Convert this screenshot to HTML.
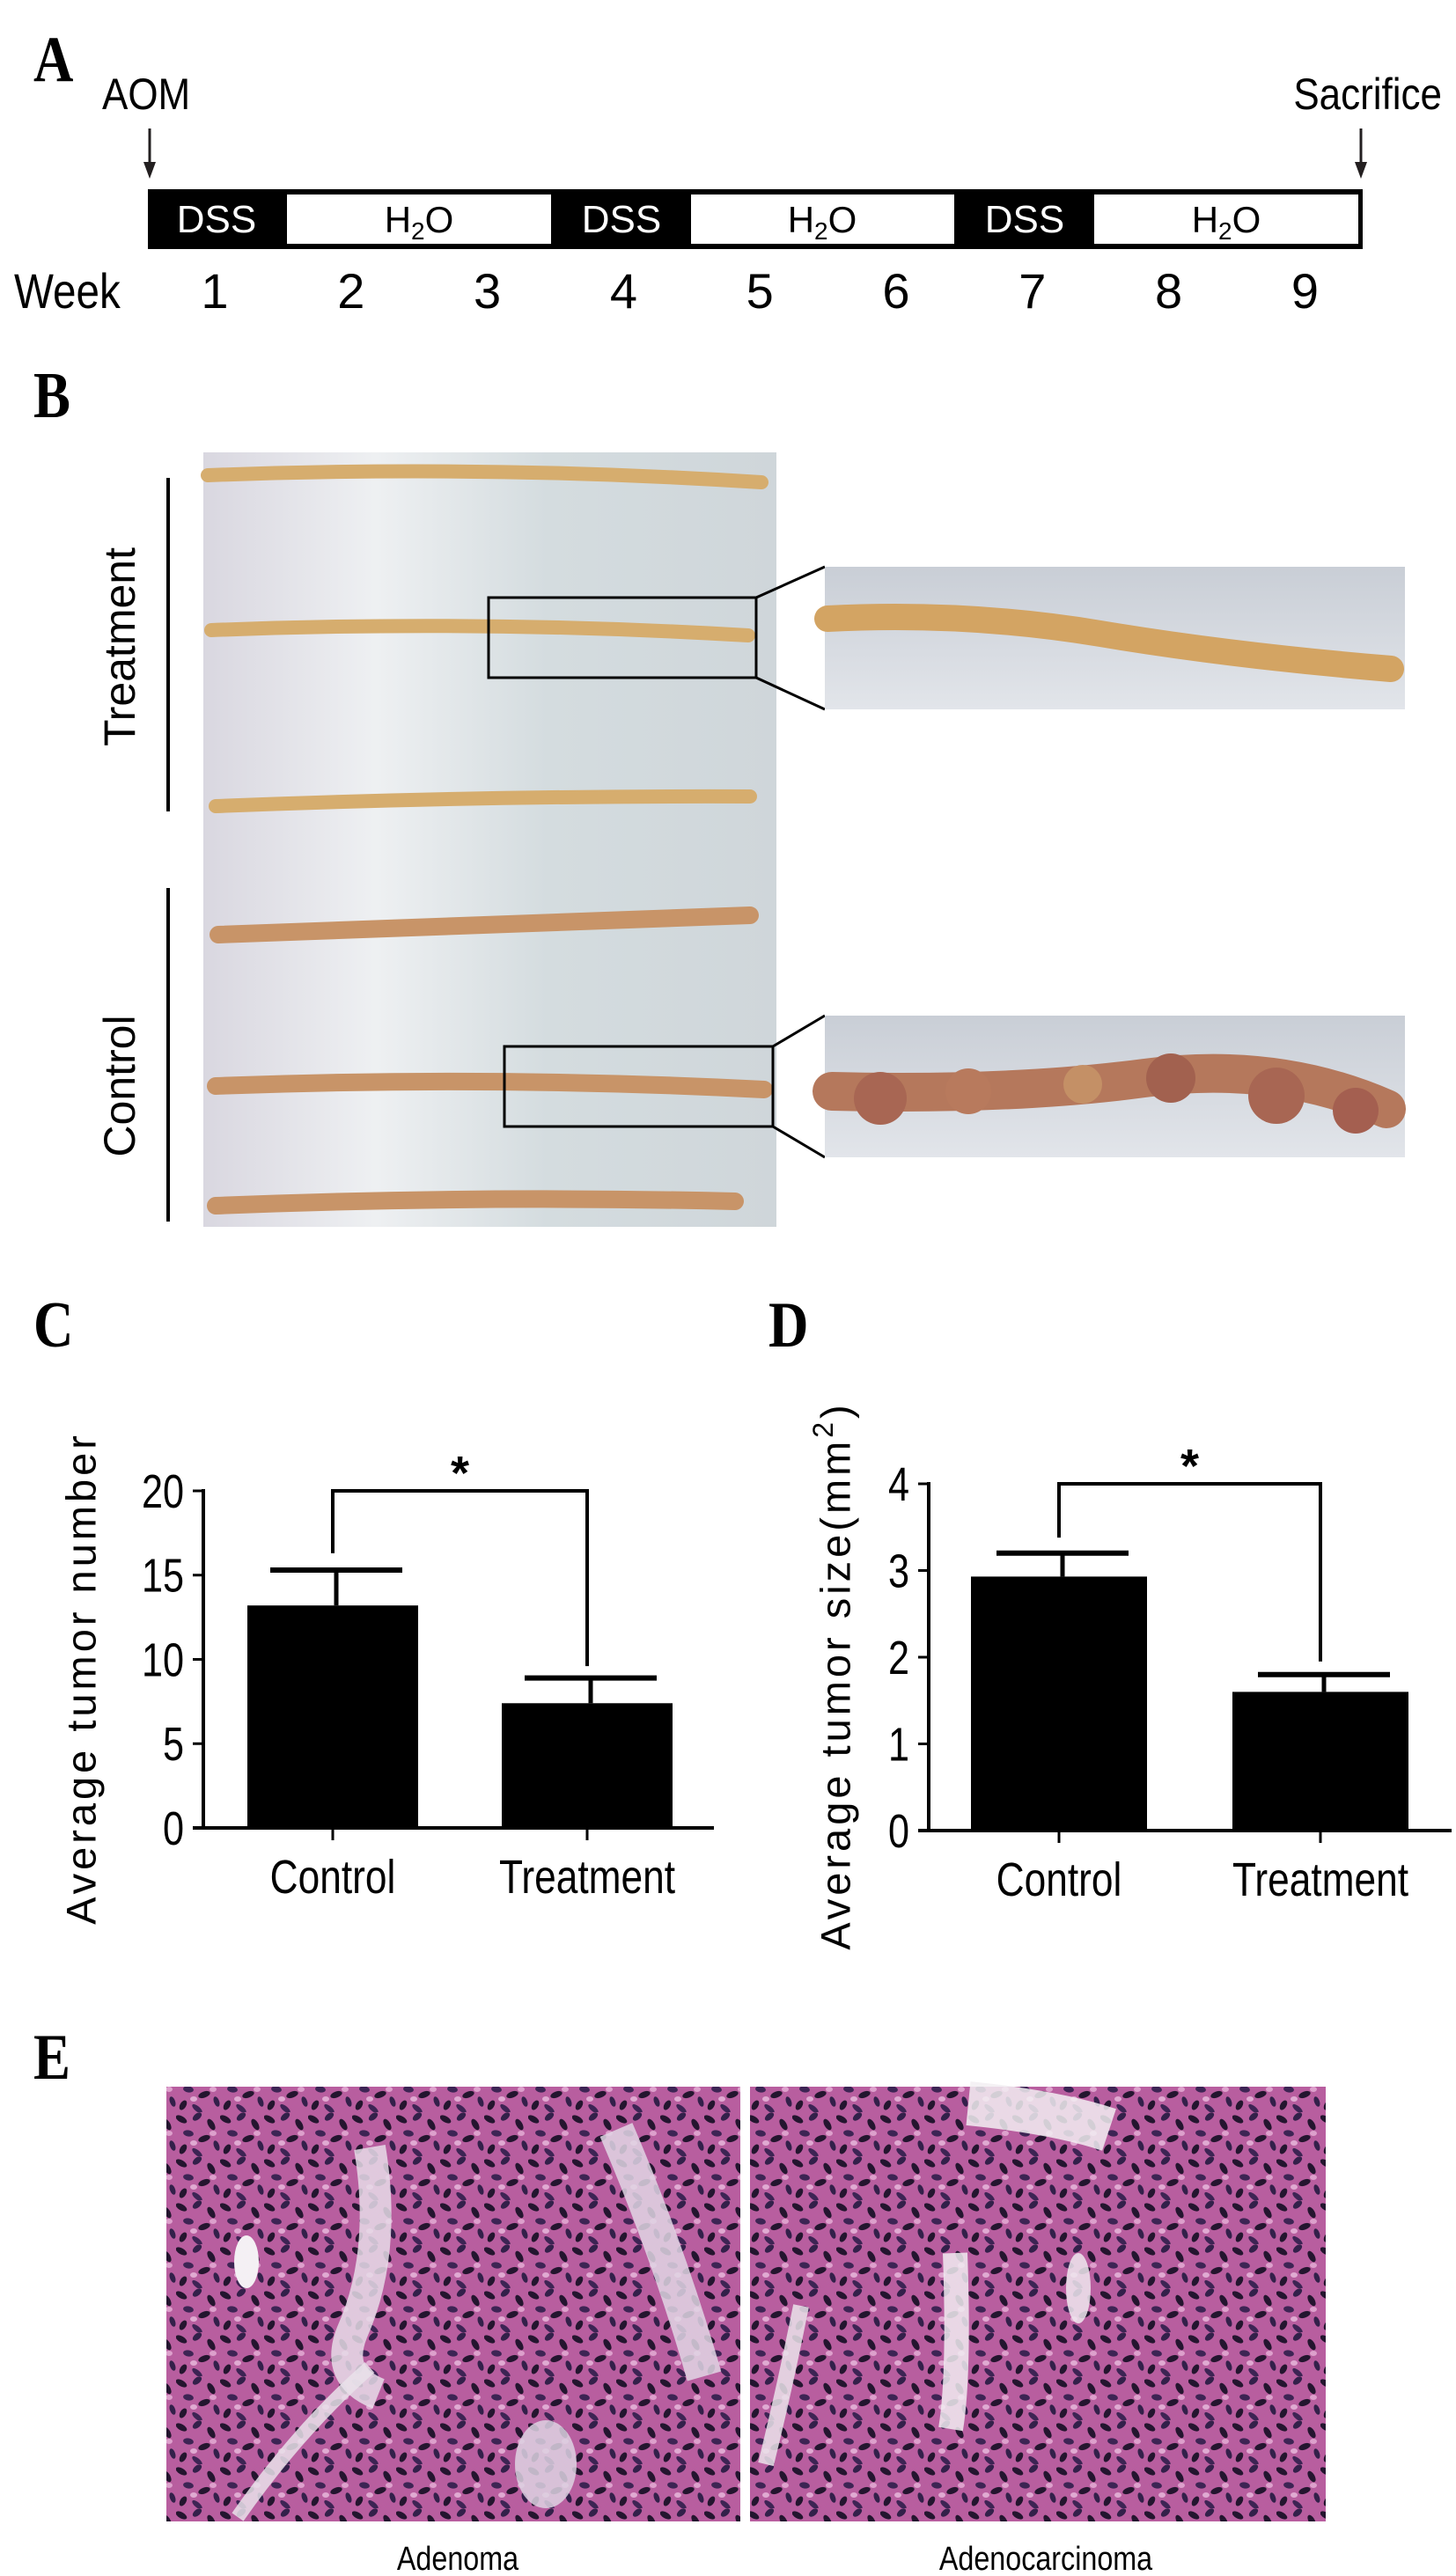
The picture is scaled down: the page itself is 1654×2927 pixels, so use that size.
<!DOCTYPE html>
<html><head><meta charset="utf-8">
<style>
html,body{margin:0;padding:0;background:#fff;}
svg{display:block;}
text{font-family:"Liberation Sans",sans-serif;}
.lbl{font-family:"Liberation Serif",serif;font-weight:bold;font-size:74px;}
</style></head>
<body>
<svg id="fig" width="1654" height="2927" viewBox="0 0 1654 2927" xmlns="http://www.w3.org/2000/svg">
<defs>
  <linearGradient id="paper" x1="0" y1="0" x2="1" y2="0">
    <stop offset="0" stop-color="#d9d7e0"/><stop offset="0.3" stop-color="#eef0f2"/><stop offset="0.6" stop-color="#d4dcdf"/><stop offset="1" stop-color="#cfd6da"/>
  </linearGradient>
  <linearGradient id="inset" x1="0" y1="0" x2="0" y2="1">
    <stop offset="0" stop-color="#c9ced6"/><stop offset="1" stop-color="#e2e5ea"/>
  </linearGradient>
  <pattern id="histo" width="50" height="50" patternUnits="userSpaceOnUse">
    <rect width="50" height="50" fill="#b85e9f"/>
    <ellipse cx="6" cy="8" rx="7" ry="3.5" fill="#24152f" transform="rotate(30 6 8)"/>
    <ellipse cx="24" cy="5" rx="6" ry="3.5" fill="#33204a" transform="rotate(-40 24 5)"/>
    <ellipse cx="40" cy="14" rx="7" ry="3.5" fill="#24152f" transform="rotate(60 40 14)"/>
    <ellipse cx="14" cy="24" rx="6" ry="3.5" fill="#3d2454" transform="rotate(10 14 24)"/>
    <ellipse cx="32" cy="30" rx="7" ry="3.5" fill="#24152f" transform="rotate(-20 32 30)"/>
    <ellipse cx="46" cy="38" rx="6" ry="3" fill="#33204a" transform="rotate(70 46 38)"/>
    <ellipse cx="8" cy="42" rx="6" ry="3.5" fill="#24152f" transform="rotate(-60 8 42)"/>
    <ellipse cx="24" cy="46" rx="7" ry="3" fill="#3d2454" transform="rotate(40 24 46)"/>
    <ellipse cx="42" cy="24" rx="4" ry="3" fill="#dda0cc"/>
    <ellipse cx="20" cy="35" rx="4" ry="3" fill="#e0aad2"/>
  </pattern>
</defs>

<!-- Panel A -->
<g>
  <text class="lbl" x="38" y="92" transform="translate(38 0) scale(0.85 1) translate(-38 0)">A</text>
  <text x="116" y="124" font-size="50" transform="translate(116 0) scale(0.88 1) translate(-116 0)">AOM</text>
  <text x="1638" y="124" font-size="50" text-anchor="end" transform="translate(1638 0) scale(0.88 1) translate(-1638 0)">Sacrifice</text>
  <g>
    <line x1="170" y1="146" x2="170" y2="188" stroke="#231f20" stroke-width="3"/>
    <polygon points="163,184 177,184 170,203" fill="#231f20"/>
  </g>
  <g>
    <line x1="1546" y1="146" x2="1546" y2="188" stroke="#231f20" stroke-width="3"/>
    <polygon points="1539,184 1553,184 1546,203" fill="#231f20"/>
  </g>
  <rect x="168" y="215" width="1380" height="68" fill="#000"/>
  <rect x="326" y="221" width="300" height="56" fill="#fff"/>
  <rect x="785" y="221" width="299" height="56" fill="#fff"/>
  <rect x="1243" y="221" width="300" height="56" fill="#fff"/>
  <g font-size="44" fill="#fff">
    <text x="246" y="264" text-anchor="middle">DSS</text>
    <text x="706" y="264" text-anchor="middle">DSS</text>
    <text x="1164" y="264" text-anchor="middle">DSS</text>
  </g>
  <g font-size="42" fill="#000">
    <text x="476" y="264" text-anchor="middle">H<tspan font-size="28" dy="8">2</tspan><tspan dy="-8">O</tspan></text>
    <text x="934" y="264" text-anchor="middle">H<tspan font-size="28" dy="8">2</tspan><tspan dy="-8">O</tspan></text>
    <text x="1393" y="264" text-anchor="middle">H<tspan font-size="28" dy="8">2</tspan><tspan dy="-8">O</tspan></text>
  </g>
  <g font-size="56" fill="#000" id="weekrow">
    <text x="16" y="350" transform="translate(16 0) scale(0.85 1) translate(-16 0)">Week</text>
  </g>
</g>

<!-- Panel B -->
<g>
  <text class="lbl" x="38" y="474" transform="translate(38 0) scale(0.85 1) translate(-38 0)">B</text>
  <rect x="231" y="514" width="651" height="880" fill="url(#paper)"/>
  <g id="colons" fill="none" stroke-linecap="round"></g>
  <line x1="191" y1="543" x2="191" y2="922" stroke="#000" stroke-width="4"/>
  <line x1="191" y1="1009" x2="191" y2="1388" stroke="#000" stroke-width="4"/>
  <text x="136" y="735" font-size="50" text-anchor="middle" dominant-baseline="central" transform="rotate(-90 136 735)">Treatment</text>
  <text x="136" y="1234" font-size="50" text-anchor="middle" dominant-baseline="central" transform="rotate(-90 136 1234)">Control</text>
  <rect x="555" y="679" width="304" height="91" fill="none" stroke="#000" stroke-width="3"/>
  <line x1="859" y1="679" x2="937" y2="644" stroke="#000" stroke-width="3"/>
  <line x1="859" y1="770" x2="937" y2="806" stroke="#000" stroke-width="3"/>
  <rect x="937" y="644" width="659" height="162" fill="url(#inset)"/>
  <path d="M940,703 Q1100,695 1250,720 T1580,760" stroke="#d3a463" stroke-width="30" fill="none" stroke-linecap="round"/>
  <rect x="573" y="1189" width="305" height="91" fill="none" stroke="#000" stroke-width="3"/>
  <line x1="878" y1="1189" x2="937" y2="1154" stroke="#000" stroke-width="3"/>
  <line x1="878" y1="1280" x2="937" y2="1315" stroke="#000" stroke-width="3"/>
  <rect x="937" y="1154" width="659" height="161" fill="url(#inset)"/>
  <g>
    <path d="M945,1240 Q1150,1245 1300,1225 T1575,1260" stroke="#b5785c" stroke-width="44" fill="none" stroke-linecap="round"/>
    <circle cx="1000" cy="1248" r="30" fill="#a86653"/><circle cx="1100" cy="1240" r="26" fill="#b87a5d"/>
    <circle cx="1230" cy="1232" r="22" fill="#c49066"/><circle cx="1330" cy="1225" r="28" fill="#a2614f"/>
    <circle cx="1450" cy="1245" r="32" fill="#a86653"/><circle cx="1540" cy="1262" r="26" fill="#a45f50"/>
  </g>
</g>

<!-- Panels C & D -->
<g>
  <text class="lbl" x="38" y="1530" transform="translate(38 0) scale(0.85 1) translate(-38 0)">C</text>
  <g id="chartC"></g>
</g>
<g>
  <text class="lbl" x="873" y="1530" transform="translate(873 0) scale(0.85 1) translate(-873 0)">D</text>
  <g id="chartD"></g>
</g>

<!-- Panel E -->
<g>
  <text class="lbl" x="38" y="2362" transform="translate(38 0) scale(0.85 1) translate(-38 0)">E</text>
  <g>
    <rect x="189" y="2371" width="652" height="494" fill="url(#histo)"/>
    <path d="M420,2440 Q440,2560 400,2650 Q380,2700 430,2720" stroke="#e6dce8" stroke-width="36" fill="none" opacity="0.85"/>
    <path d="M700,2420 Q760,2560 800,2700" stroke="#e0d6e4" stroke-width="40" fill="none" opacity="0.85"/>
    <ellipse cx="280" cy="2570" rx="14" ry="30" fill="#f4f0f4"/>
    <path d="M270,2860 Q340,2760 420,2690" stroke="#e9e2ea" stroke-width="16" fill="none" opacity="0.85"/>
    <ellipse cx="620" cy="2800" rx="35" ry="50" fill="#ddd2e2" opacity="0.85"/>
  </g>
  <g>
    <rect x="852" y="2371" width="654" height="494" fill="url(#histo)"/>
    <path d="M1100,2390 Q1200,2400 1260,2420" stroke="#f2eef2" stroke-width="50" fill="none" opacity="0.85"/>
    <path d="M1085,2560 Q1090,2700 1080,2760" stroke="#f1ecf1" stroke-width="28" fill="none" opacity="0.85"/>
    <ellipse cx="1225" cy="2600" rx="14" ry="40" fill="#eee8ee" opacity="0.85"/>
    <path d="M910,2620 Q890,2720 870,2800" stroke="#eae3ea" stroke-width="18" fill="none" opacity="0.85"/>
  </g>
  <text x="520" y="2920" font-size="38" text-anchor="middle" transform="translate(520 0) scale(0.85 1) translate(-520 0)">Adenoma</text>
  <text x="1188" y="2920" font-size="38" text-anchor="middle" transform="translate(1188 0) scale(0.85 1) translate(-1188 0)">Adenocarcinoma</text>
</g>
</svg>

<script>
// ---- chart data ----
var categories = ["Control", "Treatment"];
var tumorNumberMeans = [13.2, 7.4];
var tumorNumberErr = [15.3, 8.9];
var tumorNumberTicks = [0, 5, 10, 15, 20];
var tumorSizeMeans = [2.93, 1.6];
var tumorSizeErr = [3.2, 1.8];
var tumorSizeTicks = [0, 1, 2, 3, 4];
var weekLabels = ["1","2","3","4","5","6","7","8","9"];

var NS = "http://www.w3.org/2000/svg";
function mk(tag, attrs, parent) {
  var e = document.createElementNS(NS, tag);
  for (var k in attrs) e.setAttribute(k, attrs[k]);
  parent.appendChild(e);
  return e;
}

// week numbers
var wr = document.getElementById("weekrow");
var wx0 = 244, wstep = 154.8;
weekLabels.forEach(function (w, i) {
  var t = mk("text", {x: wx0 + i * wstep, y: 350, "text-anchor": "middle"}, wr);
  
  
  t.textContent = w;
});

// colon strands in photo
var cg = document.getElementById("colons");
var colonRows = [[236, 540, 865, 548], [240, 716, 850, 722], [245, 916, 852, 905], [248, 1062, 852, 1040], [245, 1234, 868, 1238], [245, 1370, 835, 1365]];
colonRows.forEach(function (r, i) {
  var p = mk("path", {d: "M" + r[0] + "," + r[1] + " Q" + ((r[0] + r[2]) / 2) + "," + (r[1] - 12) + " " + r[2] + "," + r[3],
    stroke: i >= 3 ? "#c89468" : "#d6ad6e", "stroke-width": i >= 3 ? 20 : 16}, cg);
  
  
});

function drawChart(gid, means, errs, ticks, opt) {
  var g = document.getElementById(gid);
  var maxV = ticks[ticks.length - 1];
  function y(v) { return opt.y0 - v * (opt.y0 - opt.yTop) / maxV; }
  var ya = mk("line", {x1: opt.ax, y1: y(maxV) - 2, x2: opt.ax, y2: opt.y0 + 2, stroke: "#000", "stroke-width": 4}, g);
  
  
  var xa = mk("line", {x1: opt.ax - 12, y1: opt.y0, x2: opt.axEnd, y2: opt.y0, stroke: "#000", "stroke-width": 4}, g);
  
  
  ticks.forEach(function (t) {
    var tk = mk("line", {x1: opt.ax - 12, y1: y(t), x2: opt.ax, y2: y(t), stroke: "#000", "stroke-width": 3}, g);
    
    
    var tl = mk("text", {x: opt.ax - 22, y: y(t) + 19, "font-size": 54, "text-anchor": "end",
      transform: "translate(" + (opt.ax - 22) + " 0) scale(0.8 1) translate(" + (-(opt.ax - 22)) + " 0)"}, g);
    
    
    tl.textContent = t;
  });
  var centers = [];
  means.forEach(function (m, i) {
    var x0 = opt.barX[i], w = opt.barW, cx = x0 + w / 2;
    centers.push(cx);
    var b = mk("rect", {x: x0, y: y(m), width: w, height: opt.y0 - y(m), fill: "#000"}, g);
    
    
    var ev = mk("line", {x1: cx + 4, y1: y(m), x2: cx + 4, y2: y(errs[i]), stroke: "#000", "stroke-width": 5}, g);
    
    
    var ec = mk("line", {x1: cx + 4 - 75, y1: y(errs[i]), x2: cx + 4 + 75, y2: y(errs[i]), stroke: "#000", "stroke-width": 6}, g);
    
    
    var xt = mk("line", {x1: cx, y1: opt.y0, x2: cx, y2: opt.y0 + 14, stroke: "#000", "stroke-width": 3}, g);
    
    
    var xl = mk("text", {x: cx, y: opt.y0 + 74, "font-size": 54, "text-anchor": "middle",
      transform: "translate(" + cx + " 0) scale(0.82 1) translate(" + (-cx) + " 0)"}, g);
    
    
    xl.textContent = categories[i];
  });
  var br = mk("polyline", {points: centers[0] + "," + y(opt.brL) + " " + centers[0] + "," + y(maxV) + " " + centers[1] + "," + y(maxV) + " " + centers[1] + "," + y(opt.brR),
    fill: "none", stroke: "#000", "stroke-width": 4}, g);
  
  
  var st = mk("text", {x: (centers[0] + centers[1]) / 2, y: y(maxV) - 2, "font-size": 54, "text-anchor": "middle", "font-weight": "bold"}, g);
  
  
  st.textContent = "*";
  var yt = mk("text", {x: opt.titleX, y: opt.titleY, "font-size": 47, "letter-spacing": 4, "text-anchor": "middle",
    "dominant-baseline": "central", transform: "rotate(-90 " + opt.titleX + " " + opt.titleY + ")"}, g);
  
  
  yt.innerHTML = opt.title;
}

drawChart("chartC", tumorNumberMeans, tumorNumberErr, tumorNumberTicks,
  {ax: 231, axEnd: 811, y0: 2077, yTop: 1694, barX: [281, 570], barW: 194, brL: 16.3, brR: 9.6,
   titleX: 92, titleY: 1907, title: "Average tumor number"});
drawChart("chartD", tumorSizeMeans, tumorSizeErr, tumorSizeTicks,
  {ax: 1055, axEnd: 1649, y0: 2080, yTop: 1686, barX: [1103, 1400], barW: 200, brL: 3.38, brR: 1.95,
   titleX: 949, titleY: 1904, title: "Average tumor size(mm<tspan font-size='32' dy='-14'>2</tspan><tspan dy='14'>)</tspan>"});
</script>
</body></html>
